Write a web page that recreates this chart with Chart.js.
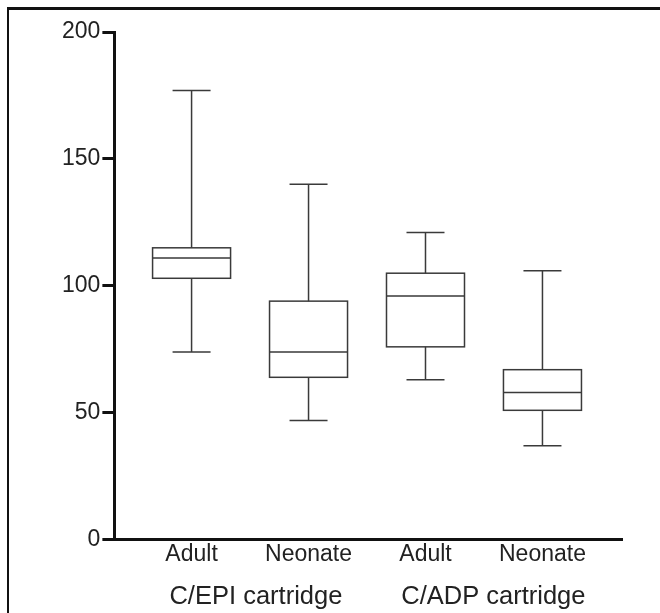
<!DOCTYPE html>
<html>
<head>
<meta charset="utf-8">
<script src="https://cdn.jsdelivr.net/npm/chart.js@4/dist/chart.umd.min.js"></script>
<style>
  html, body { margin: 0; padding: 0; background: #fff; }
  #wrap { position: relative; width: 660px; height: 613px; overflow: hidden; }
  #frame {
    position: absolute; left: 7px; top: 7px; width: 700px; height: 700px;
    border-left: 2px solid #111; border-top: 3px solid #111; box-sizing: border-box;
  }
  canvas { position: absolute; left: 0; top: 0; }
</style>
</head>
<body>
<div id="wrap">
  <div id="frame"></div>
  <canvas id="chart" width="660" height="628"></canvas>
</div>
<script>
  // Box plot summaries per group (closure time, s)
  const categories = ['Adult', 'Neonate', 'Adult', 'Neonate'];
  const cartridges = ['C/EPI cartridge', 'C/ADP cartridge'];
  const whiskerMax = [177, 140, 121, 106];
  const upperQuartile = [115, 94, 105, 67];
  const medians = [111, 74, 96, 58];
  const lowerQuartile = [103, 64, 76, 51];
  const whiskerMin = [74, 47, 63, 37];
  const yTicks = [0, 50, 100, 150, 200];

  const FONT = "'Liberation Sans', Arial, sans-serif";
  const INK = '#111';
  const BOX_HALF = 39;   // half box width, px
  const CAP_HALF = 19;   // half whisker cap width, px

  // Draws box, median and whiskers for every group using the chart scales
  const boxPlotPlugin = {
    id: 'boxPlot',
    afterDatasetsDraw(chart) {
      const xs = chart.scales.x;
      const ys = chart.scales.y;
      const ctx = chart.ctx;
      ctx.save();
      ctx.strokeStyle = '#3a3a3a';
      ctx.lineWidth = 1.5;
      categories.forEach(function (_, i) {
        const cx = xs.getPixelForValue(i);
        const yMax = ys.getPixelForValue(whiskerMax[i]);
        const yQ3 = ys.getPixelForValue(upperQuartile[i]);
        const yMed = ys.getPixelForValue(medians[i]);
        const yQ1 = ys.getPixelForValue(lowerQuartile[i]);
        const yMin = ys.getPixelForValue(whiskerMin[i]);
        ctx.beginPath();
        // whiskers
        ctx.moveTo(cx, yMax); ctx.lineTo(cx, yQ3);
        ctx.moveTo(cx, yQ1); ctx.lineTo(cx, yMin);
        // caps
        ctx.moveTo(cx - CAP_HALF, yMax); ctx.lineTo(cx + CAP_HALF, yMax);
        ctx.moveTo(cx - CAP_HALF, yMin); ctx.lineTo(cx + CAP_HALF, yMin);
        // median
        ctx.moveTo(cx - BOX_HALF, yMed); ctx.lineTo(cx + BOX_HALF, yMed);
        ctx.stroke();
        ctx.strokeRect(cx - BOX_HALF, yQ3, BOX_HALF * 2, yQ1 - yQ3);
      });
      ctx.restore();
    }
  };

  new Chart(document.getElementById('chart'), {
    type: 'scatter',
    data: {
      datasets: [{
        data: medians.map(function (m, i) { return { x: i, y: m }; }),
        pointRadius: 0,
        showLine: false
      }]
    },
    options: {
      responsive: false,
      animation: false,
      devicePixelRatio: 1,
      layout: { padding: { left: 60, right: 38, top: 32, bottom: 4 } },
      plugins: { legend: { display: false }, tooltip: { enabled: false } },
      scales: {
        x: {
          type: 'linear',
          min: -0.66,
          max: 3.68,
          afterBuildTicks: function (axis) {
            axis.ticks = categories.map(function (_, i) { return { value: i }; });
          },
          ticks: {
            autoSkip: false,
            maxRotation: 0,
            padding: 1,
            color: '#222',
            font: { family: FONT, size: 23 },
            callback: function (v) { return categories[v]; }
          },
          grid: { display: false, drawTicks: false },
          border: { display: true, width: 3, color: INK }
        },
        x2: {
          type: 'linear',
          position: 'bottom',
          min: -0.66,
          max: 3.68,
          afterBuildTicks: function (axis) {
            axis.ticks = [{ value: 0.55 }, { value: 2.58 }];
          },
          ticks: {
            autoSkip: false,
            maxRotation: 0,
            padding: 12,
            color: '#222',
            font: { family: FONT, size: 25.5 },
            callback: function (v) { return v < 1.5 ? cartridges[0] : cartridges[1]; }
          },
          grid: { display: false, drawTicks: false },
          border: { display: false }
        },
        y: {
          min: 0,
          max: 200,
          afterBuildTicks: function (axis) {
            axis.ticks = yTicks.map(function (v) { return { value: v }; });
          },
          ticks: {
            padding: 2,
            color: '#222',
            font: { family: FONT, size: 23 }
          },
          grid: { drawOnChartArea: false, tickLength: 12, tickWidth: 3, tickColor: INK },
          border: { display: true, width: 3, color: INK }
        }
      }
    },
    plugins: [boxPlotPlugin]
  });
</script>
</body>
</html>
